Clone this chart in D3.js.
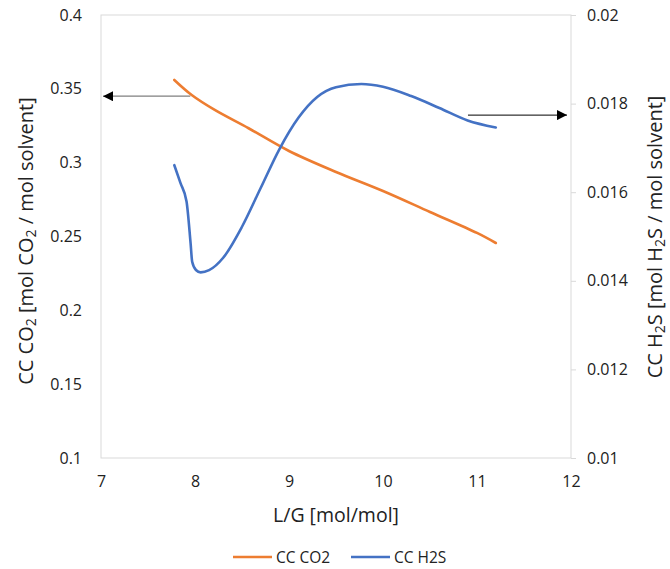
<!DOCTYPE html>
<html><head><meta charset="utf-8">
<script src="https://cdn.jsdelivr.net/npm/d3@7/dist/d3.min.js"></script>
<style>body{margin:0;background:#fff}svg{display:block}text{font-family:"Open Sans",Lato,sans-serif;fill:#222}</style>
</head><body>
<script>
// Data
const co2X = [7.78, 7.965, 8.21, 8.57, 9.0, 9.5, 10.0, 10.5, 11.0, 11.2];
const co2Y = [0.356, 0.3458, 0.3357, 0.3233, 0.3079, 0.2937, 0.2808, 0.2666, 0.2524, 0.2456];
const h2sX = [7.78, 7.845, 7.91, 7.953, 7.97, 8.01, 8.06, 8.15, 8.3, 8.5, 8.7, 8.9, 9.1, 9.3, 9.5, 9.77, 10.0, 10.3, 10.6, 10.9, 11.2];
const h2sY = [0.01661, 0.01621, 0.01579, 0.01485, 0.01443, 0.014244, 0.01419, 0.01424, 0.01452, 0.01522, 0.01610, 0.01698, 0.01768, 0.01815, 0.01837, 0.018442, 0.01838, 0.01817, 0.01790, 0.01762, 0.01746];
const xTicks = [7, 8, 9, 10, 11, 12];
const yLeftTicks = [0.1, 0.15, 0.2, 0.25, 0.3, 0.35, 0.4];
const yRightTicks = [0.01, 0.012, 0.014, 0.016, 0.018, 0.02];
const seriesNames = ["CC CO2", "CC H2S"];
const arrowLeft = {x1: 7.95, x2: 7.0, y: 0.345};
const arrowRight = {x1: 10.904, x2: 12.0, y: 0.01774};

const W = 670, H = 569;
const m = {l: 101, r: 571, t: 15, b: 458};
const svg = d3.select("body").append("svg").attr("width", W).attr("height", H);

const x = d3.scaleLinear().domain([7, 12]).range([m.l, m.r]);
const yL = d3.scaleLinear().domain([0.1, 0.4]).range([m.b, m.t]);
const yR = d3.scaleLinear().domain([0.01, 0.02]).range([m.b, m.t]);

// plot frame
svg.append("rect").attr("x", m.l).attr("y", m.t).attr("width", m.r - m.l).attr("height", m.b - m.t)
  .attr("fill", "none").attr("stroke", "#d9d9d9").attr("stroke-width", 1);

// axes
const fmtL = d => String(+d.toFixed(2));
const fmtR = d => String(+d.toFixed(3));
const gL = svg.append("g").attr("transform", `translate(${m.l},0)`)
  .call(d3.axisLeft(yL).tickValues(yLeftTicks).tickFormat(fmtL).tickSize(0).tickPadding(19));
const gR = svg.append("g").attr("transform", `translate(${m.r},0)`)
  .call(d3.axisRight(yR).tickValues(yRightTicks).tickFormat(fmtR).tickSize(5).tickPadding(11));
const gB = svg.append("g").attr("transform", `translate(0,${m.b})`)
  .call(d3.axisBottom(x).tickValues(xTicks).tickFormat(d3.format("d")).tickSize(0).tickPadding(18));
[gL, gR, gB].forEach(g => {
  g.select(".domain").remove();
  g.selectAll("text").style("font-size", "16px").style("font-family", '"Open Sans",sans-serif').attr("fill", "#222");
  g.selectAll("line").attr("stroke", "#d9d9d9");
});

// series lines
const lineL = d3.line().x(d => x(d[0])).y(d => yL(d[1])).curve(d3.curveCatmullRom.alpha(0.5));
const lineR = d3.line().x(d => x(d[0])).y(d => yR(d[1])).curve(d3.curveMonotoneX);
svg.append("path").datum(co2X.map((v, i) => [v, co2Y[i]])).attr("d", lineL)
  .attr("fill", "none").attr("stroke", "#ED7D31").attr("stroke-width", 2.6).attr("stroke-linecap", "round");
svg.append("path").datum(h2sX.map((v, i) => [v, h2sY[i]])).attr("d", lineR)
  .attr("fill", "none").attr("stroke", "#4472C4").attr("stroke-width", 2.6).attr("stroke-linecap", "round");

// arrows
const defs = svg.append("defs");
defs.append("marker").attr("id", "ah").attr("viewBox", "0 0 10 10").attr("refX", 10).attr("refY", 5)
  .attr("markerWidth", 11).attr("markerHeight", 10).attr("markerUnits", "userSpaceOnUse").attr("orient", "auto")
  .append("path").attr("d", "M0,0L10,5L0,10Z").attr("fill", "#000");
svg.append("line").attr("x1", x(arrowLeft.x1)).attr("x2", x(arrowLeft.x2) + 2)
  .attr("y1", yL(arrowLeft.y)).attr("y2", yL(arrowLeft.y))
  .attr("stroke", "#7f7f7f").attr("stroke-width", 1.3).attr("marker-end", "url(#ah)");
svg.append("line").attr("x1", x(arrowRight.x1)).attr("x2", x(arrowRight.x2) - 4)
  .attr("y1", yR(arrowRight.y)).attr("y2", yR(arrowRight.y))
  .attr("stroke", "#000").attr("stroke-width", 1).attr("marker-end", "url(#ah)");

// axis titles
svg.append("text").attr("x", (m.l + m.r) / 2).attr("y", 522).attr("text-anchor", "middle")
  .style("font-size", "19.5px").text("L/G [mol/mol]");

// parts: [text, isSub]; a subscript shifts down, the following part shifts back up
function subTitle(t, parts) {
  let shifted = false;
  parts.forEach(([s, sub]) => {
    const ts = t.append("tspan").text(s);
    if (sub) { ts.attr("dy", 3).style("font-size", "14px"); shifted = true; }
    else if (shifted) { ts.attr("dy", -3); shifted = false; }
  });
}
const tL = svg.append("text").attr("transform", `translate(33,241) rotate(-90)`).attr("text-anchor", "middle")
  .style("font-size", "20px");
subTitle(tL, [["CC CO"], ["2", true], [" [mol CO"], ["2", true], [" / mol solvent]"]]);
const tR = svg.append("text").attr("transform", `translate(662,237) rotate(-90)`).attr("text-anchor", "middle")
  .style("font-size", "20px");
subTitle(tR, [["CC H"], ["2", true], ["S [mol H"], ["2", true], ["S / mol solvent]"]]);

// legend
const colors = ["#ED7D31", "#4472C4"];
const legX = [233, 351];
seriesNames.forEach((n, i) => {
  const g = svg.append("g").attr("transform", `translate(${legX[i]},557)`);
  g.append("line").attr("x1", 0).attr("x2", 39).attr("y1", 0).attr("y2", 0)
    .attr("stroke", colors[i]).attr("stroke-width", 2.6);
  g.append("text").attr("x", 43).attr("y", 5.5).style("font-size", "15.5px").text(n);
});
</script>
</body></html>
